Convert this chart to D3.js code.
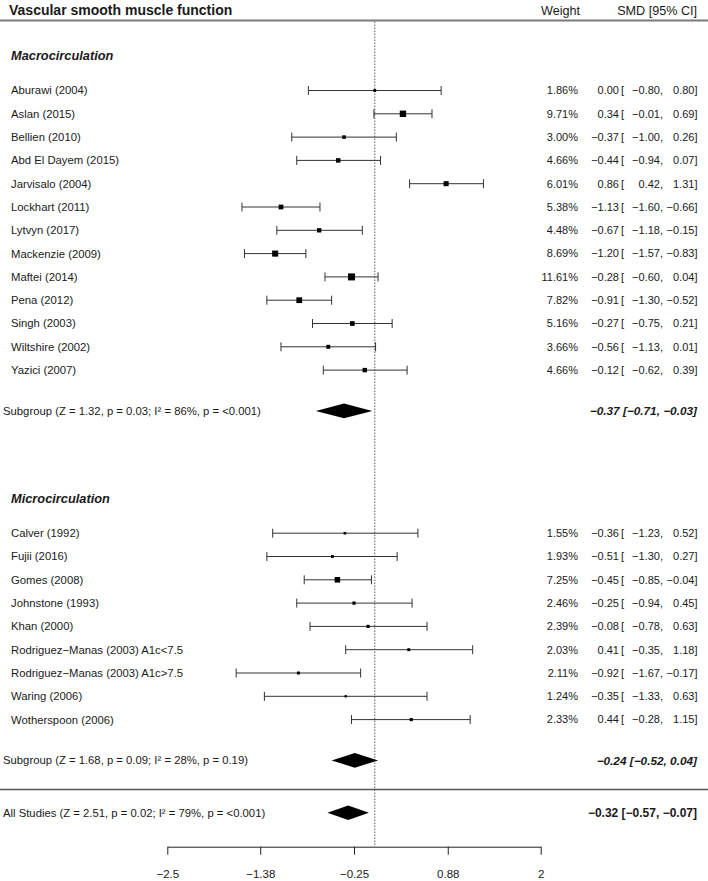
<!DOCTYPE html>
<html>
<head>
<meta charset="utf-8">
<script src="https://cdn.jsdelivr.net/npm/d3@7"></script>
<style>
  html, body { margin: 0; padding: 0; background: #fff; }
  svg text { font-family: "Liberation Sans", Arial, Helvetica, sans-serif; fill: #1a1a1a; }
</style>
</head>
<body>
<svg id="chart" width="708" height="881"></svg>
<script>
// ---------------- DATA ----------------
const title = "Vascular smooth muscle function";
const groupNames = ["Macrocirculation", "Microcirculation"];

const macroStudies = ["Aburawi (2004)", "Aslan (2015)", "Bellien (2010)", "Abd El Dayem (2015)", "Jarvisalo (2004)",
  "Lockhart (2011)", "Lytvyn (2017)", "Mackenzie (2009)", "Maftei (2014)", "Pena (2012)", "Singh (2003)",
  "Wiltshire (2002)", "Yazici (2007)"];
const macroWeights = [1.86, 9.71, 3.00, 4.66, 6.01, 5.38, 4.48, 8.69, 11.61, 7.82, 5.16, 3.66, 4.66];
const macroEst   = [0.00, 0.34, -0.37, -0.44, 0.86, -1.13, -0.67, -1.20, -0.28, -0.91, -0.27, -0.56, -0.12];
const macroLower = [-0.80, -0.01, -1.00, -0.94, 0.42, -1.60, -1.18, -1.57, -0.60, -1.30, -0.75, -1.13, -0.62];
const macroUpper = [0.80, 0.69, 0.26, 0.07, 1.31, -0.66, -0.15, -0.83, 0.04, -0.52, 0.21, 0.01, 0.39];

const microStudies = ["Calver (1992)", "Fujii (2016)", "Gomes (2008)", "Johnstone (1993)", "Khan (2000)",
  "Rodriguez\u2212Manas (2003) A1c<7.5", "Rodriguez\u2212Manas (2003) A1c>7.5", "Waring (2006)", "Wotherspoon (2006)"];
const microWeights = [1.55, 1.93, 7.25, 2.46, 2.39, 2.03, 2.11, 1.24, 2.33];
const microEst   = [-0.36, -0.51, -0.45, -0.25, -0.08, 0.41, -0.92, -0.35, 0.44];
const microLower = [-1.23, -1.30, -0.85, -0.94, -0.78, -0.35, -1.67, -1.33, -0.28];
const microUpper = [0.52, 0.27, -0.04, 0.45, 0.63, 1.18, -0.17, 0.63, 1.15];

const subgroupLabels = ["Subgroup (Z = 1.32, p = 0.03; I\u00b2 = 86%, p = <0.001)",
                        "Subgroup (Z = 1.68, p = 0.09; I\u00b2 = 28%, p = 0.19)"];
const subgroupEst   = [-0.37, -0.24];
const subgroupLower = [-0.71, -0.52];
const subgroupUpper = [-0.03, 0.04];

const overallLabel = "All Studies (Z = 2.51, p = 0.02; I\u00b2 = 79%, p = <0.001)";
const overallEst = -0.32, overallLower = -0.57, overallUpper = -0.07;

const tickValues = [-2.5, -1.38, -0.25, 0.88, 2];
const tickLabels = ["\u22122.5", "\u22121.38", "\u22120.25", "0.88", "2"];
const xDomain = [-2.5, 2];

// ---------------- HELPERS ----------------
const fmt = v => d3.format(".2f")(v).replace("-", "\u2212");
const groups = [
  {name: groupNames[0], studies: macroStudies, w: macroWeights, est: macroEst, lo: macroLower, hi: macroUpper},
  {name: groupNames[1], studies: microStudies, w: microWeights, est: microEst, lo: microLower, hi: microUpper}
];

// row layout (row units)
let r = 0;
const rows = [];
const groupRows = [];
const subRows = [];
groups.forEach((g, gi) => {
  groupRows.push(r - 1.5);
  g.studies.forEach((s, i) => {
    rows.push({label: s, w: g.w[i], est: g.est[i], lo: g.lo[i], hi: g.hi[i], row: r});
    r += 1;
  });
  subRows.push(r - 1 + 1.75);
  r = r - 1 + 1.75 + 5.25;
});
const lastSub = subRows[subRows.length - 1];
const sepRow = lastSub + 1.25;
const overallRow = lastSub + 2.25;
const headerRow = groupRows[0] - 1.5;

// ---------------- SCALES ----------------
const svg = d3.select("#chart");
const x = d3.scaleLinear().domain(xDomain).range([167.3, 540.7]);
const y = d3.scaleLinear().domain([0, 1]).range([90.5, 113.8]);
const sz = d3.scaleSqrt().domain([0, d3.max(rows, d => d.w)]).range([0, 7]);

const axisY = 846.7;
const capH = 4.5;
const dH = 7.3;
const numFs = 11;

// header
svg.append("text").attr("x", 9).attr("y", 15).attr("font-size", 14).attr("font-weight", "bold").text(title);
svg.append("text").attr("x", 580).attr("y", 15).attr("font-size", 12.6).attr("text-anchor", "end").text("Weight");
svg.append("text").attr("x", 697).attr("y", 15).attr("font-size", 12.6).attr("text-anchor", "end").text("SMD [95% CI]");
svg.append("line").attr("x1", 0).attr("x2", 708).attr("y1", y(headerRow)).attr("y2", y(headerRow))
  .attr("stroke", "#7a7a7a").attr("stroke-width", 2);

// zero line
svg.append("line").attr("x1", x(0)).attr("x2", x(0)).attr("y1", y(headerRow) + 1).attr("y2", axisY)
  .attr("stroke", "#777").attr("stroke-width", 1.2).attr("stroke-dasharray", "1.5,1.5");

// group headers
groups.forEach((g, gi) => {
  svg.append("text").attr("x", 11).attr("y", y(groupRows[gi])).attr("dy", "0.35em")
    .attr("font-size", 12.8).attr("font-weight", "bold").attr("font-style", "italic").text(g.name);
});

// study rows
const rg = svg.append("g").selectAll("g").data(rows).join("g");
rg.append("text").attr("x", 11).attr("y", d => y(d.row)).attr("dy", "0.35em").attr("font-size", 11.3).text(d => d.label);
rg.append("line").attr("x1", d => x(d.lo)).attr("x2", d => x(d.hi)).attr("y1", d => y(d.row)).attr("y2", d => y(d.row))
  .attr("stroke", "#333").attr("stroke-width", 1);
rg.append("line").attr("x1", d => x(d.lo)).attr("x2", d => x(d.lo)).attr("y1", d => y(d.row) - capH).attr("y2", d => y(d.row) + capH)
  .attr("stroke", "#333").attr("stroke-width", 1);
rg.append("line").attr("x1", d => x(d.hi)).attr("x2", d => x(d.hi)).attr("y1", d => y(d.row) - capH).attr("y2", d => y(d.row) + capH)
  .attr("stroke", "#333").attr("stroke-width", 1);
rg.append("rect").attr("x", d => x(d.est) - sz(d.w) / 2).attr("y", d => y(d.row) - sz(d.w) / 2)
  .attr("width", d => sz(d.w)).attr("height", d => sz(d.w)).attr("fill", "#000");
rg.append("text").attr("x", 578).attr("y", d => y(d.row)).attr("dy", "0.35em").attr("font-size", numFs).attr("text-anchor", "end")
  .text(d => d3.format(".2f")(d.w) + "%");
rg.append("text").attr("x", 619).attr("y", d => y(d.row)).attr("dy", "0.35em").attr("font-size", numFs).attr("text-anchor", "end")
  .text(d => fmt(d.est));
rg.append("text").attr("x", 621).attr("y", d => y(d.row)).attr("dy", "0.35em").attr("font-size", numFs).text("[");
rg.append("text").attr("x", 663).attr("y", d => y(d.row)).attr("dy", "0.35em").attr("font-size", numFs).attr("text-anchor", "end")
  .text(d => fmt(d.lo) + ",");
rg.append("text").attr("x", 697.5).attr("y", d => y(d.row)).attr("dy", "0.35em").attr("font-size", numFs).attr("text-anchor", "end")
  .text(d => fmt(d.hi) + "]");

// diamonds
function diamond(est, lo, hi, yy) {
  return `M${x(lo)},${yy} L${x(est)},${yy - dH} L${x(hi)},${yy} L${x(est)},${yy + dH} Z`;
}
subRows.forEach((sr, i) => {
  svg.append("text").attr("x", 3).attr("y", y(sr)).attr("dy", "0.35em").attr("font-size", 11.3).text(subgroupLabels[i]);
  svg.append("path").attr("d", diamond(subgroupEst[i], subgroupLower[i], subgroupUpper[i], y(sr))).attr("fill", "#000");
  svg.append("text").attr("x", 697).attr("y", y(sr)).attr("dy", "0.35em").attr("font-size", 11.8)
    .attr("font-weight", "bold").attr("font-style", "italic").attr("text-anchor", "end")
    .text(`${fmt(subgroupEst[i])} [${fmt(subgroupLower[i])}, ${fmt(subgroupUpper[i])}]`);
});

// separator
svg.append("line").attr("x1", 0).attr("x2", 708).attr("y1", y(sepRow)).attr("y2", y(sepRow))
  .attr("stroke", "#555").attr("stroke-width", 1.3);

// overall
svg.append("text").attr("x", 3).attr("y", y(overallRow)).attr("dy", "0.35em").attr("font-size", 11.3).text(overallLabel);
svg.append("path").attr("d", diamond(overallEst, overallLower, overallUpper, y(overallRow))).attr("fill", "#000");
svg.append("text").attr("x", 697).attr("y", y(overallRow)).attr("dy", "0.35em").attr("font-size", 12)
  .attr("font-weight", "bold").attr("text-anchor", "end")
  .text(`${fmt(overallEst)} [${fmt(overallLower)}, ${fmt(overallUpper)}]`);

// axis
const axis = d3.axisBottom(x).tickValues(tickValues).tickFormat((d, i) => tickLabels[i]).tickSize(8).tickPadding(15).tickSizeOuter(0);
const ag = svg.append("g").attr("transform", `translate(0,${axisY})`).call(axis);
ag.select(".domain").attr("stroke", "#222");
ag.selectAll(".tick line").attr("stroke", "#222");
ag.selectAll(".tick text").attr("font-size", 11.5).attr("fill", "#1a1a1a")
  .style("font-family", '"Liberation Sans", Arial, sans-serif');
</script>
</body>
</html>
